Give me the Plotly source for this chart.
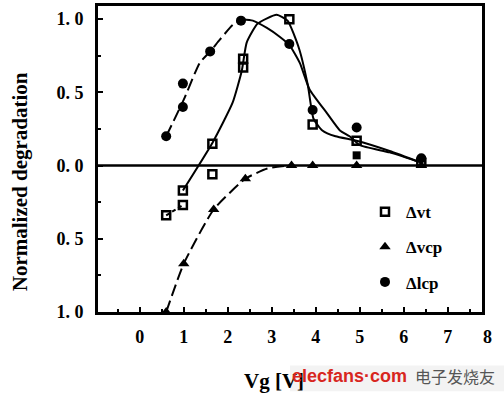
import plotly.graph_objects as go

# ---- data ----
vt_x = [0.6, 0.98, 0.98, 1.65, 1.65, 2.35, 2.35, 3.4, 3.93, 4.93, 6.4]
vt_y = [-0.34, -0.17, -0.27, 0.15, -0.06, 0.73, 0.67, 1.0, 0.28, 0.17, 0.02]
vt_fill_x = [4.93]
vt_fill_y = [0.07]
vcp_x = [0.6, 1.0, 1.68, 2.4, 3.45, 3.93, 4.93, 6.4]
vcp_y = [-1.0, -0.67, -0.30, -0.09, 0.0, 0.0, 0.0, 0.0]
lcp_x = [0.6, 0.98, 0.98, 1.6, 2.3, 3.4, 3.93, 4.93, 6.4]
lcp_y = [0.20, 0.56, 0.40, 0.78, 0.99, 0.83, 0.38, 0.26, 0.05]

# hand-drawn guide curves (knots)
vt_dash_x = [0.6, 0.98]
vt_dash_y = [-0.34, -0.27]
vt_curve_x = [0.98, 1.66, 2.11, 2.32, 2.43, 2.68, 3.11, 3.36, 3.62, 3.82, 3.95, 4.15, 4.45, 4.93, 5.68, 6.4]
vt_curve_y = [-0.17, 0.16, 0.43, 0.65, 0.84, 0.97, 1.03, 0.99, 0.80, 0.55, 0.32, 0.24, 0.20, 0.17, 0.10, 0.02]
lcp_dash_x = [0.6, 1.0, 1.36, 1.6, 1.82, 2.11, 2.33]
lcp_dash_y = [0.2, 0.45, 0.70, 0.78, 0.86, 0.96, 1.0]
lcp_curve_x = [2.33, 2.57, 2.89, 3.18, 3.41, 3.64, 3.86, 4.25, 4.55, 4.77, 5.0, 5.68, 6.3]
lcp_curve_y = [1.0, 0.99, 0.94, 0.88, 0.82, 0.70, 0.52, 0.36, 0.24, 0.20, 0.14, 0.09, 0.03]
vcp_curve_x = [0.6, 1.0, 1.68, 2.4, 2.9, 3.35]
vcp_curve_y = [-1.0, -0.67, -0.30, -0.09, -0.02, 0.0]
zero_x = [-0.95, 7.78]
zero_y = [0, 0]

x_ticks = [0, 1, 2, 3, 4, 5, 6, 7]
y_ticks = [1.0, 0.5, 0.0, -0.5, -1.0]
y_ticktext = ["1. 0", "0. 5", "0. 0", "0. 5", "1. 0"]

SERIF = "Liberation Serif"
fig = go.Figure()

def line(x, y, dash="solid", width=2, smoothing=0.5):
    fig.add_trace(go.Scatter(x=x, y=y, mode="lines", showlegend=False,
                             line=dict(color="black", width=width, dash=dash, shape="spline", smoothing=smoothing),
                             hoverinfo="skip", cliponaxis=False))

line(zero_x, zero_y, width=2.5)
line(vt_dash_x, vt_dash_y, dash="4px,3px")
line(vt_curve_x, vt_curve_y)
line(lcp_dash_x, lcp_dash_y, dash="12px,5px")
line(lcp_curve_x, lcp_curve_y)
line(vcp_curve_x, vcp_curve_y, dash="12px,5px")

fig.add_trace(go.Scatter(x=vt_x, y=vt_y, mode="markers", name="Δvt", legendgroup="a",
                         marker=dict(symbol="square-open", size=8, color="black", line=dict(width=2.5, color="black")),
                         cliponaxis=False))
fig.add_trace(go.Scatter(x=vt_fill_x, y=vt_fill_y, mode="markers", showlegend=False,
                         marker=dict(symbol="square", size=8, color="black"), cliponaxis=False))
fig.add_trace(go.Scatter(x=vcp_x, y=vcp_y, mode="markers", name="Δvcp", legendgroup="b",
                         marker=dict(symbol="triangle-up", size=10, color="black"), cliponaxis=False))
fig.add_trace(go.Scatter(x=lcp_x, y=lcp_y, mode="markers", name="Δlcp", legendgroup="c",
                         marker=dict(symbol="circle", size=10, color="black"), cliponaxis=False))

axis_common = dict(showline=True, linewidth=3, linecolor="black", mirror=True, showgrid=False,
                   zeroline=False, ticks="inside", tickwidth=2, ticklen=5, tickcolor="black",
                   tickfont=dict(family=SERIF, size=18, color="black", weight="bold"))

fig.update_xaxes(range=[-0.95, 7.78], tickvals=x_ticks, ticktext=[str(v) for v in x_ticks],
                 ticklabelstandoff=6,
                 minor=dict(dtick=0.5, ticks="inside", ticklen=3, tickwidth=2, tickcolor="black"),
                 **axis_common)
fig.update_yaxes(range=[-1.0, 1.09], tickvals=y_ticks, ticktext=y_ticktext,
                 ticklabelstandoff=8,
                 minor=dict(dtick=0.25, ticks="inside", ticklen=3, tickwidth=2, tickcolor="black"),
                 **axis_common)

def px2paper(px, py):
    return (px - 98) / 384, (312 - py) / 309

shapes = []
sx0, sy0 = px2paper(290, 366)
sx1, sy1 = px2paper(504, 392)
shapes.append(dict(type="rect", xref="paper", yref="paper", x0=sx0, y0=sy0, x1=sx1, y1=sy1,
                   fillcolor="#f3f3f3", line=dict(width=0), layer="below"))

ann = []
ax, ay = px2paper(20, 181)
ann.append(dict(x=ax, y=ay, xref="paper", yref="paper", text="<b>Normalized degradation</b>",
                textangle=-90, showarrow=False, xanchor="center", yanchor="middle",
                font=dict(family=SERIF, size=21, color="black")))
ax, ay = px2paper(487, 337)
ann.append(dict(x=ax, y=ay, xref="paper", yref="paper", text="<b>8</b>", showarrow=False,
                xanchor="center", yanchor="middle",
                font=dict(family=SERIF, size=18, color="black")))
ax, ay = px2paper(242, 382)
ann.append(dict(x=ax, y=ay, xref="paper", yref="paper", text="<b>Vg [V]</b>", showarrow=False,
                xanchor="left", yanchor="middle",
                font=dict(family=SERIF, size=21, color="black")))
ax, ay = px2paper(290, 377)
ann.append(dict(x=ax, y=ay, xref="paper", yref="paper", text="<b>elecfans·com</b>", showarrow=False,
                xanchor="left", yanchor="middle",
                font=dict(family="Liberation Sans", size=18, color="#d8261e")))
ax, ay = px2paper(413, 377)
ann.append(dict(x=ax, y=ay, xref="paper", yref="paper", text="电子发烧友", showarrow=False,
                xanchor="left", yanchor="middle",
                font=dict(family="Noto Sans CJK SC", size=16, color="#555555")))

lx, ly = px2paper(364, 193)
fig.update_layout(
    width=504, height=394,
    margin=dict(l=98, r=22, t=3, b=82),
    paper_bgcolor="white", plot_bgcolor="white",
    showlegend=True,
    legend=dict(x=lx, y=ly, xanchor="left", yanchor="top", bgcolor="rgba(0,0,0,0)",
                font=dict(family=SERIF, size=17, color="black", weight="bold"),
                tracegroupgap=10, itemwidth=32),
    annotations=ann,
    shapes=shapes,
)

fig.write_html("out.html")
